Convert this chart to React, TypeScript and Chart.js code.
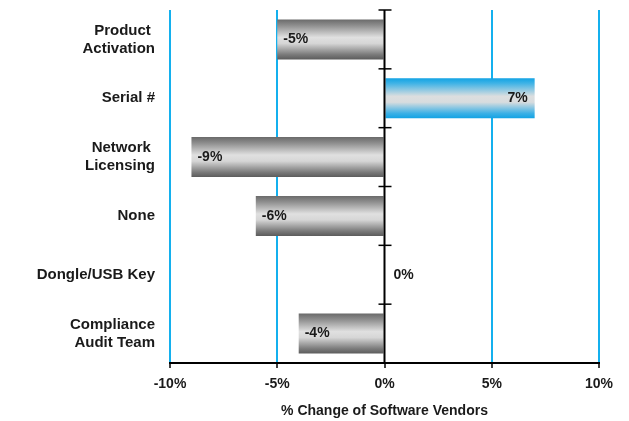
import React, { useEffect, useRef } from "react";
import { Chart, registerables } from "chart.js";

Chart.register(...registerables);

const categories: (string | string[])[] = [
  ["Product ", "Activation"],
  "Serial #",
  ["Network ", "Licensing"],
  "None",
  "Dongle/USB Key",
  ["Compliance", "Audit Team"],
];
const changeValues = [-5, 7, -9, -6, 0, -4];
const xTicks = [-10, -5, 0, 5, 10];

const FONT = "'Liberation Sans', Arial, sans-serif";
const GRID_BLUE = "#14b0ee";
const BAR_FRACTION = 0.68;

function barGradient(ctx: CanvasRenderingContext2D, top: number, bottom: number, positive: boolean) {
  const g = ctx.createLinearGradient(0, top, 0, bottom);
  if (positive) {
    g.addColorStop(0, "#12a3e4");
    g.addColorStop(0.12, "#3cb2e6");
    g.addColorStop(0.45, "#dcdedf");
    g.addColorStop(0.6, "#d8dcde");
    g.addColorStop(0.88, "#3ab0e6");
    g.addColorStop(1, "#12a3e4");
  } else {
    g.addColorStop(0, "#6a6a6a");
    g.addColorStop(0.15, "#8e8e8e");
    g.addColorStop(0.45, "#e0e0e0");
    g.addColorStop(0.6, "#d6d6d6");
    g.addColorStop(0.88, "#7a7a7a");
    g.addColorStop(1, "#5c5c5c");
  }
  return g;
}

// Zero line with short cross ticks at each category boundary
const zeroLinePlugin = {
  id: "zeroLine",
  afterDatasetsDraw(chart: any) {
    const { ctx, chartArea, scales } = chart;
    const x0 = scales.x.getPixelForValue(0);
    ctx.save();
    ctx.strokeStyle = "#000";
    ctx.lineWidth = 2;
    ctx.beginPath();
    ctx.moveTo(x0, chartArea.top);
    ctx.lineTo(x0, chartArea.bottom);
    ctx.stroke();
    const n = categories.length;
    const step = (chartArea.bottom - chartArea.top) / n;
    ctx.lineWidth = 1.5;
    for (let i = 0; i < n; i++) {
      const y = chartArea.top + i * step;
      ctx.beginPath();
      ctx.moveTo(x0 - 6, y);
      ctx.lineTo(x0 + 7, y);
      ctx.stroke();
    }
    ctx.restore();
  },
};

// Bar shading: vertical cylinder-like gradient per bar
const barShadePlugin = {
  id: "barShade",
  beforeDatasetsDraw(chart: any) {
    const meta = chart.getDatasetMeta(0);
    meta.data.forEach((el: any, i: number) => {
      const h = el.height;
      if (!isFinite(el.y) || !isFinite(h)) return;
      el.options.backgroundColor = barGradient(chart.ctx, el.y - h / 2, el.y + h / 2, changeValues[i] > 0);
    });
  },
};

// Value labels placed just inside the outer end of each bar
const valueLabelPlugin = {
  id: "valueLabels",
  afterDatasetsDraw(chart: any) {
    const { ctx, scales } = chart;
    const meta = chart.getDatasetMeta(0);
    ctx.save();
    ctx.font = `bold 14px ${FONT}`;
    ctx.fillStyle = "#1a1a1a";
    ctx.textBaseline = "middle";
    meta.data.forEach((el: any, i: number) => {
      const v = changeValues[i];
      const y = el.y;
      const xEnd = scales.x.getPixelForValue(v);
      const text = `${v}%`;
      if (v > 0) {
        ctx.textAlign = "right";
        ctx.fillText(text, xEnd - 7, y);
      } else if (v < 0) {
        ctx.textAlign = "left";
        ctx.fillText(text, xEnd + 6, y);
      } else {
        ctx.textAlign = "left";
        ctx.fillText(text, xEnd + 9, y);
      }
    });
    ctx.restore();
  },
};

export default function App() {
  const canvasRef = useRef<HTMLCanvasElement | null>(null);

  useEffect(() => {
    if (!canvasRef.current) return;
    const chart = new Chart(canvasRef.current, {
      type: "bar",
      data: {
        labels: categories,
        datasets: [
          {
            data: changeValues,
            categoryPercentage: 1,
            barPercentage: BAR_FRACTION,
            borderWidth: 0,
            // scriptable so every bar gets its own options object
            backgroundColor: (c: any) => (changeValues[c.dataIndex] > 0 ? "#3cb2e6" : "#999999"),
          },
        ],
      },
      options: {
        indexAxis: "y",
        responsive: false,
        animation: false,
        layout: { padding: { top: 10, right: 30, bottom: 1, left: 0 } },
        plugins: {
          legend: { display: false },
          tooltip: { enabled: false },
        },
        scales: {
          x: {
            min: -10,
            max: 10,
            afterBuildTicks: (axis: any) => {
              axis.ticks = xTicks.map((v) => ({ value: v }));
            },
            afterFit: (axis: any) => {
              axis.height = 57;
            },
            border: { display: true, color: "#000", width: 2 },
            grid: {
              color: (c: any) => (c.tick && c.tick.value === 0 ? "rgba(0,0,0,0)" : GRID_BLUE),
              lineWidth: 2,
              drawTicks: true,
              tickLength: 5,
              tickColor: "#000",
              tickWidth: 1.5,
            },
            ticks: {
              callback: (v: any) => `${v}%`,
              color: "#1a1a1a",
              padding: 8,
              font: { family: FONT, size: 14, weight: "bold" },
            },
            title: {
              display: true,
              text: "% Change of Software Vendors",
              color: "#1a1a1a",
              font: { family: FONT, size: 14, weight: "bold" },
              padding: { top: 4, bottom: 0 },
            },
          },
          y: {
            afterFit: (axis: any) => {
              axis.width = 170;
              axis.paddingTop = 0;
              axis.paddingBottom = 0;
            },
            border: { display: false },
            grid: { display: false, drawTicks: false },
            ticks: {
              color: "#1a1a1a",
              padding: 15,
              font: { family: FONT, size: 15, weight: "bold" },
            },
          },
        },
      },
      plugins: [barShadePlugin, zeroLinePlugin, valueLabelPlugin],
    } as any);
    return () => chart.destroy();
  }, []);

  return (
    <div style={{ position: "fixed", left: 0, top: 0, width: 629, height: 421, background: "#fff" }}>
      <canvas ref={canvasRef} width={629} height={421} />
    </div>
  );
}
